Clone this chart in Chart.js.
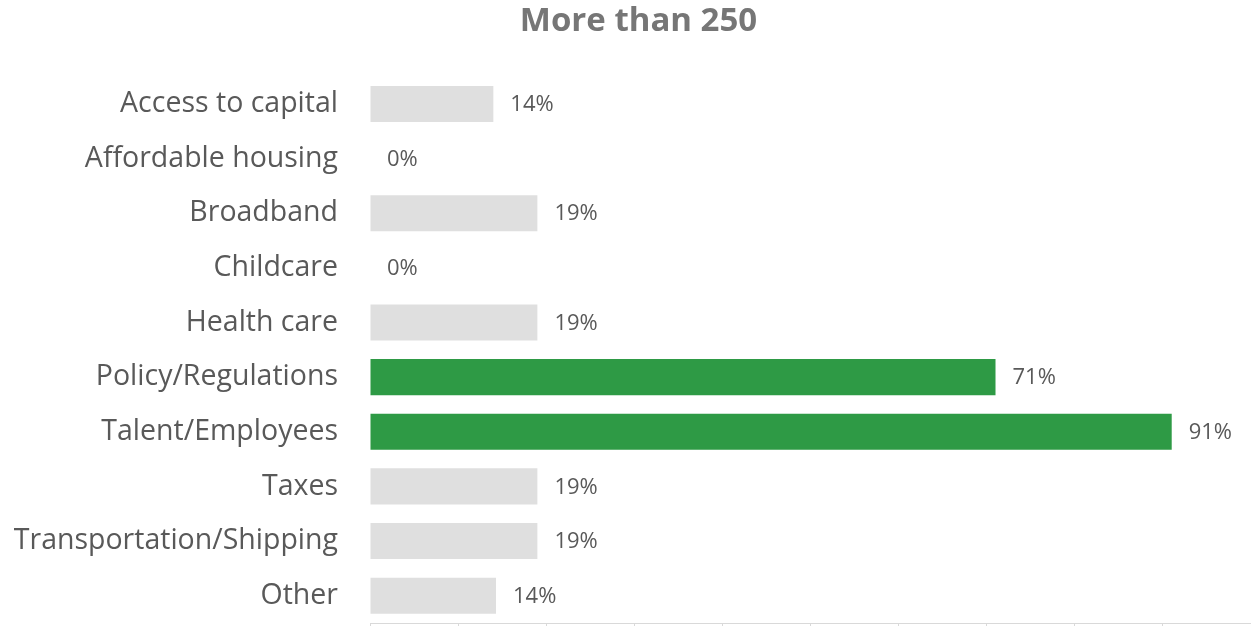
<!DOCTYPE html>
<html>
<head>
<meta charset="utf-8">
<script src="https://cdn.jsdelivr.net/npm/chart.js@4"></script>
<style>
  html, body { margin: 0; padding: 0; background: #fff; overflow: hidden; }
  canvas { display: block; }
</style>
</head>
<body>
<canvas id="chart" width="1251" height="626"></canvas>
<script>
// Chart data
const categories = ['Access to capital', 'Affordable housing', 'Broadband', 'Childcare', 'Health care',
  'Policy/Regulations', 'Talent/Employees', 'Taxes', 'Transportation/Shipping', 'Other'];
const shares = [14, 0, 19, 0, 19, 71, 91, 19, 19, 14.3];
const highlighted = ['Policy/Regulations', 'Talent/Employees'];
const xTicks = [0, 10, 20, 30, 40, 50, 60, 70, 80, 90, 100];

const FONT = "'Open Sans', sans-serif";
const GREY = '#dfdfdf';
const GREEN = '#2e9a45';

const barColors = categories.map(c => highlighted.includes(c) ? GREEN : GREY);

// Percentage label just right of each bar
const valueLabels = {
  id: 'valueLabels',
  afterDatasetsDraw(chart) {
    const ctx = chart.ctx;
    const meta = chart.getDatasetMeta(0);
    ctx.save();
    ctx.font = '22px ' + FONT;
    ctx.fillStyle = '#595959';
    ctx.textAlign = 'left';
    ctx.textBaseline = 'middle';
    meta.data.forEach((bar, i) => {
      ctx.fillText(Math.round(shares[i]) + '%', bar.x + 17, bar.y + 1);
    });
    ctx.restore();
  }
};

// Title is centred over the plot side a bit, like the original
const shiftTitle = {
  id: 'shiftTitle',
  afterLayout(chart) {
    if (chart.titleBlock) chart.titleBlock.left += 26;
  }
};

new Chart(document.getElementById('chart'), {
  type: 'bar',
  data: {
    labels: categories,
    datasets: [{
      data: shares,
      backgroundColor: barColors,
      borderWidth: 0,
      categoryPercentage: 1,
      barPercentage: 0.66
    }]
  },
  options: {
    indexAxis: 'y',
    responsive: false,
    animation: false,
    layout: {
      padding: 0
    },
    plugins: {
      legend: { display: false },
      tooltip: { enabled: false },
      title: {
        display: true,
        text: 'More than 250',
        color: '#767676',
        font: { family: FONT, size: 33, weight: 'bold', lineHeight: 1.2 },
        padding: { top: 2, bottom: 35 }
      }
    },
    scales: {
      x: {
        min: 0,
        max: 100,
        afterBuildTicks(scale) {
          scale.ticks = xTicks.map(v => ({ value: v }));
        },
        ticks: { display: false },
        grid: {
          drawOnChartArea: false,
          drawTicks: true,
          tickLength: 3,
          color: '#d9d9d9'
        },
        border: { display: true, color: '#d9d9d9' }
      },
      y: {
        afterFit(scale) {
          scale.width = 370;
          scale.paddingTop = 0;
          scale.paddingBottom = 0;
        },
        ticks: {
          color: '#595959',
          padding: 32,
          font: { family: FONT, size: 28.5 }
        },
        grid: { display: false, drawTicks: false },
        border: { display: false }
      }
    }
  },
  plugins: [valueLabels, shiftTitle]
});
</script>
</body>
</html>
